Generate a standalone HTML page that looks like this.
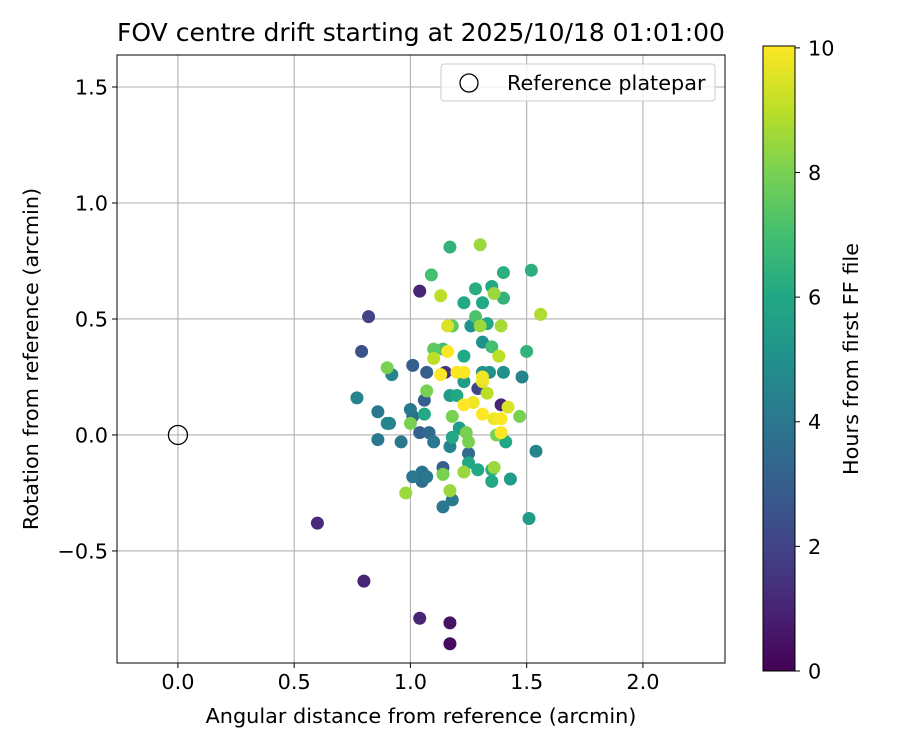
<!DOCTYPE html>
<html><head><meta charset="utf-8"><style>
body{margin:0;background:#fff}
svg text{font-family:"DejaVu Sans","Liberation Sans",sans-serif;fill:#000}
</style></head><body>
<svg id="c" width="900" height="750" xmlns="http://www.w3.org/2000/svg">
<defs><linearGradient id="vir" x1="0" y1="1" x2="0" y2="0">
<stop offset="0" stop-color="#440154"/><stop offset="0.1" stop-color="#482475"/><stop offset="0.2" stop-color="#414487"/><stop offset="0.3" stop-color="#355f8d"/><stop offset="0.4" stop-color="#2a788e"/><stop offset="0.5" stop-color="#21918c"/><stop offset="0.6" stop-color="#22a884"/><stop offset="0.7" stop-color="#44bf70"/><stop offset="0.8" stop-color="#7ad151"/><stop offset="0.9" stop-color="#bddf26"/><stop offset="1" stop-color="#fde725"/>
</linearGradient></defs>
<g id="grid"></g>
<g id="pts"></g>
<g id="ax"></g>
<text x="421" y="41" font-size="25" text-anchor="middle">FOV centre drift starting at 2025/10/18 01:01:00</text>
<text x="421" y="723" font-size="20.8" text-anchor="middle">Angular distance from reference (arcmin)</text>
<text transform="translate(38,359) rotate(-90)" font-size="20.8" text-anchor="middle">Rotation from reference (arcmin)</text>
<g>
<rect x="441" y="64" width="274" height="37" rx="3" fill="#fff" fill-opacity="0.8" stroke="#ccc"/>
<circle cx="469" cy="83" r="9" fill="none" stroke="#000" stroke-width="1.3"/>
<text x="507" y="90" font-size="20.8">Reference platepar</text>
</g>
<rect x="763" y="46" width="32" height="625" fill="url(#vir)" stroke="#000" stroke-width="1"/>
<g id="cb"></g>
<text transform="translate(858,359) rotate(-90)" font-size="20.8" text-anchor="middle">Hours from first FF file</text>
</svg>
<script>
const xVals=[1.17,1.30,1.09,1.04,1.13,0.82,1.23,1.28,1.31,1.35,1.40,1.52,1.40,1.36,1.56,1.16,1.18,1.26,1.28,1.30,1.33,1.39,0.79,1.10,1.14,1.16,1.10,1.23,1.31,1.35,1.38,1.50,1.01,0.90,0.92,1.07,1.13,1.15,1.20,1.23,1.31,1.34,1.31,1.40,1.48,1.23,0.77,0.86,0.90,0.91,0.86,0.96,1.00,1.01,1.00,1.06,1.06,1.07,1.04,1.08,1.10,1.17,1.20,1.23,1.27,1.31,1.29,1.31,1.33,1.39,1.42,1.47,1.36,1.39,1.37,1.39,1.41,1.18,1.21,1.18,1.24,1.25,1.17,1.25,1.54,1.25,1.29,1.35,1.36,1.35,1.43,1.14,1.14,1.23,1.01,1.05,1.07,1.05,0.98,1.17,1.18,1.14,1.51,0.60,0.80,1.04,1.17,1.17];
const yVals=[0.81,0.82,0.69,0.62,0.60,0.51,0.57,0.63,0.57,0.64,0.70,0.71,0.59,0.61,0.52,0.47,0.47,0.47,0.51,0.47,0.48,0.47,0.36,0.37,0.37,0.36,0.33,0.34,0.40,0.38,0.34,0.36,0.30,0.29,0.26,0.27,0.26,0.27,0.27,0.27,0.27,0.27,0.25,0.27,0.25,0.23,0.16,0.10,0.05,0.05,-0.02,-0.03,0.11,0.08,0.05,0.15,0.09,0.19,0.01,0.01,-0.03,0.17,0.17,0.13,0.14,0.09,0.20,0.23,0.18,0.13,0.12,0.08,0.07,0.07,0.00,0.01,-0.03,0.08,0.03,-0.01,0.01,-0.03,-0.05,-0.08,-0.07,-0.12,-0.15,-0.15,-0.14,-0.20,-0.19,-0.14,-0.17,-0.16,-0.18,-0.20,-0.18,-0.16,-0.25,-0.24,-0.28,-0.31,-0.36,-0.38,-0.63,-0.79,-0.81,-0.90];
const hours=[6.5,8.5,7,1,9,2,6,6.2,6,6,6.3,6.3,6.5,8.5,8.8,9.5,7.5,5,7.2,8.5,6,8.7,2.5,7.5,7,10,9,6,5,7,9,6.5,3,8,4.5,3,10,1.5,10,10,5,5,9.8,5,4.5,5.5,4.5,4,4.5,4.5,4,4,4,3.5,8,3,6,8,3,3.5,4,5.5,6,10,9.8,10,2,9.7,9,1,9.5,8,9.8,10,8,10,6,8,5.5,6,8,8,4.5,3.5,4.5,6,6,6.2,8.5,6,5.5,3,8,8.5,4,3.5,4,3.8,8.5,8.5,4,4,5.5,1.2,1,1,0.5,0.3];
const xTicks=[0.0,0.5,1.0,1.5,2.0];
const yTicks=[-0.5,0.0,0.5,1.0,1.5];
const cbTicks=[0,2,4,6,8,10];
const X0=117,X1=725,Y0=55,Y1=663,xmin=-0.262,xmax=2.353,ymin=-0.983,ymax=1.638,hmax=10.03;
const sx=v=>X0+(v-xmin)/(xmax-xmin)*(X1-X0);
const sy=v=>Y1-(v-ymin)/(ymax-ymin)*(Y1-Y0);
const stops=["#440154","#482475","#414487","#355f8d","#2a788e","#21918c","#22a884","#44bf70","#7ad151","#bddf26","#fde725"];
function vir(t){t=Math.max(0,Math.min(1,t))*10;const i=Math.min(9,Math.floor(t)),f=t-i;
const a=stops[i],b=stops[i+1];const p=(s,k)=>parseInt(s.substr(1+2*k,2),16);
return "rgb("+[0,1,2].map(k=>Math.round(p(a,k)+(p(b,k)-p(a,k))*f)).join(",")+")";}
const NS="http://www.w3.org/2000/svg";
function mk(tag,attrs,parent){const e=document.createElementNS(NS,tag);for(const k in attrs)e.setAttribute(k,attrs[k]);parent.appendChild(e);return e;}
const grid=document.getElementById('grid'),ax=document.getElementById('ax'),pts=document.getElementById('pts'),cb=document.getElementById('cb');
xTicks.forEach(v=>{const x=sx(v);
const g=mk('line',{x1:x,x2:x,y1:Y0,y2:Y1,stroke:'#b0b0b0','stroke-width':1.1},grid);


const t=mk('line',{x1:x,x2:x,y1:Y1,y2:Y1+5,stroke:'#000'},ax);


const l=mk('text',{x:x,y:Y1+26,'font-size':20.8,'text-anchor':'middle'},ax);l.textContent=v.toFixed(1);

});
yTicks.forEach(v=>{const y=sy(v);
const g=mk('line',{x1:X0,x2:X1,y1:y,y2:y,stroke:'#b0b0b0','stroke-width':1.1},grid);


const t=mk('line',{x1:X0-5,x2:X0,y1:y,y2:y,stroke:'#000'},ax);


const l=mk('text',{x:X0-9,y:y+7.5,'font-size':20.8,'text-anchor':'end'},ax);l.textContent=(v<0?"\u2212":"")+Math.abs(v).toFixed(1);

});
const order=hours.map((h,i)=>i).sort((a,b)=>hours[a]-hours[b]);
order.forEach(i=>{const c=mk('circle',{cx:sx(xVals[i]),cy:sy(yVals[i]),r:6.5,fill:vir(hours[i]/hmax)},pts);

});
const ref=mk('circle',{cx:sx(0),cy:sy(0),r:9.5,fill:'none',stroke:'#000','stroke-width':1.3},pts);


const fr=mk('rect',{x:X0,y:Y0,width:X1-X0,height:Y1-Y0,fill:'none',stroke:'#000','stroke-width':1},ax);


cbTicks.forEach(v=>{const y=671-v/hmax*625;
const t=mk('line',{x1:795,x2:800,y1:y,y2:y,stroke:'#000'},cb);


const l=mk('text',{x:808,y:y+7.5,'font-size':20.8},cb);l.textContent=v;

});
</script>
</body></html>
